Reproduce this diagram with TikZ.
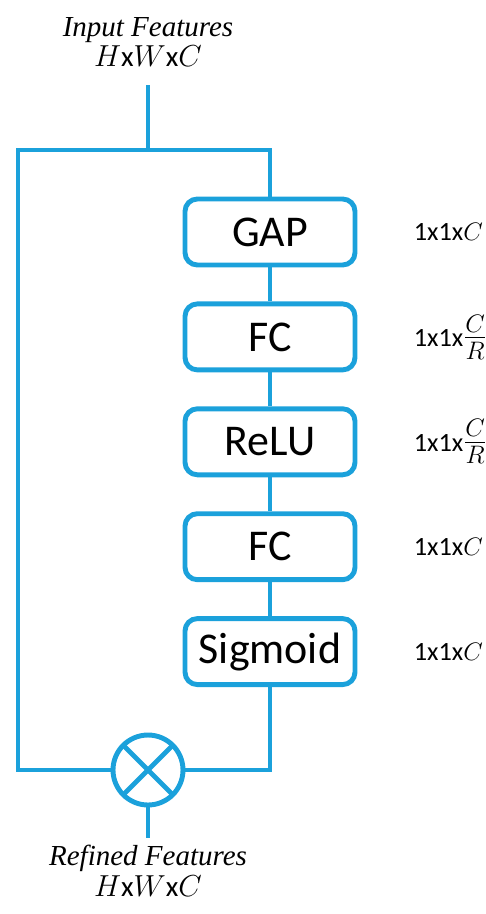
\documentclass[tikz,border=0pt]{standalone}
\usepackage{fontspec}
\setmainfont{Carlito}
\newfontfamily\capfont{Liberation Serif}
\usetikzlibrary{positioning}

\definecolor{seblue}{HTML}{1BA1DB}

\tikzset{
  block/.style={draw=seblue, line width=2.8pt, rounded corners=7pt,
    minimum width=3.4cm, minimum height=1.32cm,
    font=\fontsize{25}{29}\selectfont},
  dimlabel/.style={inner sep=0pt, font=\fontsize{15}{18}\selectfont},
  feat/.style={align=center, font=\capfont\itshape\fontsize{16.5}{17.6}\selectfont},
  link/.style={draw=seblue, line width=2.8pt},
}
\newcommand{\ratio}{{\fontsize{20}{22}\selectfont$\frac{C}{R}$}}

\begin{document}
\begin{tikzpicture}[x=0.02cm, y=-0.02cm, node distance=0.68cm]
        \useasboundingbox (0,0) rectangle (486,914);

        % Đầu vào
        \node[feat] (inp) at (148,42) {Input Features\\$H\mathrm{x}W\mathrm{x}C$};
        \coordinate (start) at (148,85);
        \coordinate (split) at (148,150);
        \coordinate (tl) at (18,150);
        \coordinate (bl) at (18,770);

        % Các khối
        \node[block] (gap) at (270,232) {GAP};
        \node[block, below=of gap] (fc1) {FC};
        \node[block, below=of fc1] (relu) {ReLU};
        \node[block, below=of relu] (fc2) {FC};
        \node[block, below=of fc2] (sig) {Sigmoid};

        % Kích thước
        \node[dimlabel, right=1.12cm of gap] (d1) {1x1x$C$};
        \node[dimlabel, right=1.12cm of fc1] (d2) {1x1x\ratio};
        \node[dimlabel, right=1.12cm of relu] (d3) {1x1x\ratio};
        \node[dimlabel, right=1.12cm of fc2] (d4) {1x1x$C$};
        \node[dimlabel, right=1.12cm of sig] (d5) {1x1x$C$};

        % Phép nhân
        \node[draw=seblue, line width=2.8pt, circle, minimum size=1.4cm, outer sep=0pt] (mul) at (148,770) {};
        \draw[link] (mul.north west) -- (mul.south east) (mul.north east) -- (mul.south west);
        \coordinate (stop) at (148,838);
        \node[feat] (outp) at (148,871) {Refined Features\\$H\mathrm{x}W\mathrm{x}C$};

        % Đường nối
        \draw[link] (start) -- (split);
        \draw[link] (gap.north) |- (tl) -- (bl) -- (mul.west);
        \foreach \a/\b in {gap/fc1, fc1/relu, relu/fc2, fc2/sig}
            \draw[link] (\a) -- (\b);
        \draw[link] (sig.south) |- (mul.east);
        \draw[link] (mul.south) -- (stop);
    \end{tikzpicture}
\end{document}
